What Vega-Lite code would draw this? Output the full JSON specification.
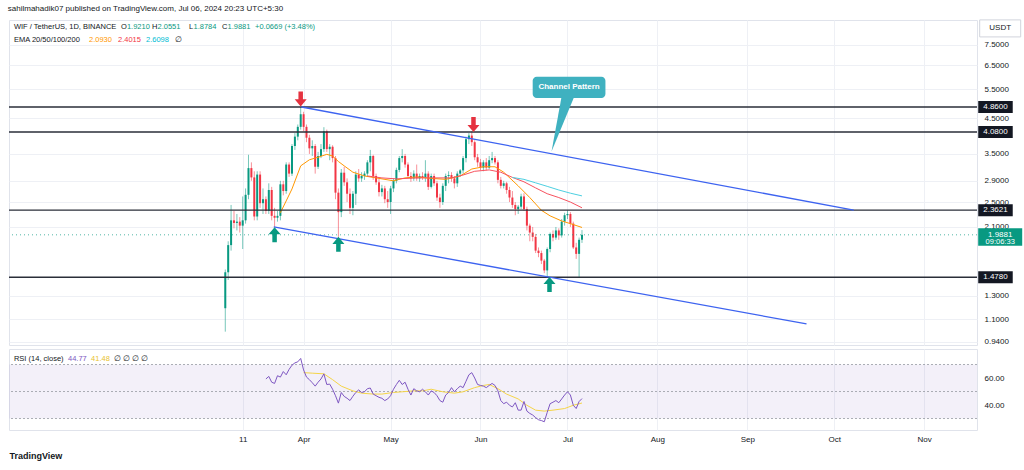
{
  "$schema": "https://vega.github.io/schema/vega-lite/v6.json",
  "background": "white",
  "padding": {"left": 7, "top": 5, "right": 0, "bottom": 0},
  "title": {"text": "sahilmahadik07 published on TradingView.com, Jul 06, 2024 20:23 UTC+5:30", "anchor": "start", "fontSize": 8, "fontWeight": "normal", "color": "#131722", "font": "Liberation Sans", "offset": 4},
  "spacing": 1,
  "config": {
    "font": "Liberation Sans",
    "view": {"stroke": "#e0e3eb"},
    "axis": {"labelFont": "Liberation Sans", "labelFontSize": 8, "labelColor": "#131722", "gridColor": "#eef0f5", "domain": false, "ticks": false}
  },
  "datasets": {
    "ohlc": [
      {"d": "2024-03-05", "o": 1.19, "h": 1.56, "l": 1.01, "c": 1.53},
      {"d": "2024-03-06", "o": 1.53, "h": 1.90, "l": 1.45, "c": 1.85},
      {"d": "2024-03-07", "o": 1.85, "h": 2.45, "l": 1.78, "c": 2.20},
      {"d": "2024-03-08", "o": 2.20, "h": 2.35, "l": 2.08, "c": 2.16},
      {"d": "2024-03-09", "o": 2.16, "h": 2.30, "l": 2.05, "c": 2.18},
      {"d": "2024-03-10", "o": 2.18, "h": 2.25, "l": 2.02, "c": 2.12},
      {"d": "2024-03-11", "o": 2.12, "h": 2.60, "l": 1.80, "c": 2.20},
      {"d": "2024-03-12", "o": 2.20, "h": 2.75, "l": 2.15, "c": 2.63},
      {"d": "2024-03-13", "o": 2.63, "h": 3.48, "l": 2.55, "c": 3.17},
      {"d": "2024-03-14", "o": 3.17, "h": 3.30, "l": 2.90, "c": 2.97},
      {"d": "2024-03-15", "o": 2.97, "h": 3.10, "l": 2.20, "c": 2.26},
      {"d": "2024-03-16", "o": 2.26, "h": 3.10, "l": 2.20, "c": 3.03},
      {"d": "2024-03-17", "o": 3.03, "h": 3.10, "l": 2.40, "c": 2.48},
      {"d": "2024-03-18", "o": 2.48, "h": 2.75, "l": 2.30, "c": 2.55},
      {"d": "2024-03-19", "o": 2.55, "h": 2.60, "l": 2.30, "c": 2.35},
      {"d": "2024-03-20", "o": 2.35, "h": 2.85, "l": 2.30, "c": 2.72},
      {"d": "2024-03-21", "o": 2.72, "h": 2.78, "l": 2.20, "c": 2.27},
      {"d": "2024-03-22", "o": 2.27, "h": 2.40, "l": 2.10, "c": 2.24},
      {"d": "2024-03-23", "o": 2.24, "h": 2.35, "l": 2.18, "c": 2.27},
      {"d": "2024-03-24", "o": 2.27, "h": 2.90, "l": 2.20, "c": 2.83},
      {"d": "2024-03-25", "o": 2.83, "h": 2.90, "l": 2.62, "c": 2.70},
      {"d": "2024-03-26", "o": 2.70, "h": 3.30, "l": 2.65, "c": 3.25},
      {"d": "2024-03-27", "o": 3.25, "h": 3.30, "l": 2.98, "c": 3.05},
      {"d": "2024-03-28", "o": 3.05, "h": 3.75, "l": 3.00, "c": 3.70},
      {"d": "2024-03-29", "o": 3.70, "h": 4.05, "l": 3.60, "c": 3.95},
      {"d": "2024-03-30", "o": 3.95, "h": 4.30, "l": 3.85, "c": 4.23},
      {"d": "2024-03-31", "o": 4.23, "h": 4.86, "l": 4.15, "c": 4.62},
      {"d": "2024-04-01", "o": 4.62, "h": 4.70, "l": 4.10, "c": 4.23},
      {"d": "2024-04-02", "o": 4.23, "h": 4.30, "l": 3.80, "c": 3.92},
      {"d": "2024-04-03", "o": 3.92, "h": 4.00, "l": 3.50, "c": 3.64},
      {"d": "2024-04-04", "o": 3.64, "h": 3.85, "l": 3.45, "c": 3.70},
      {"d": "2024-04-05", "o": 3.70, "h": 3.75, "l": 3.05, "c": 3.20},
      {"d": "2024-04-06", "o": 3.20, "h": 3.55, "l": 3.15, "c": 3.45},
      {"d": "2024-04-07", "o": 3.45, "h": 3.75, "l": 3.40, "c": 3.62},
      {"d": "2024-04-08", "o": 3.62, "h": 4.22, "l": 3.55, "c": 4.10},
      {"d": "2024-04-09", "o": 4.10, "h": 4.15, "l": 3.55, "c": 3.62},
      {"d": "2024-04-10", "o": 3.62, "h": 3.75, "l": 3.35, "c": 3.68},
      {"d": "2024-04-11", "o": 3.68, "h": 3.72, "l": 3.30, "c": 3.40},
      {"d": "2024-04-12", "o": 3.40, "h": 3.45, "l": 2.55, "c": 2.67},
      {"d": "2024-04-13", "o": 2.67, "h": 2.75, "l": 1.96, "c": 2.33},
      {"d": "2024-04-14", "o": 2.33, "h": 3.15, "l": 2.25, "c": 3.07},
      {"d": "2024-04-15", "o": 3.07, "h": 3.20, "l": 2.80, "c": 2.87},
      {"d": "2024-04-16", "o": 2.87, "h": 2.95, "l": 2.50, "c": 2.65},
      {"d": "2024-04-17", "o": 2.65, "h": 2.75, "l": 2.30, "c": 2.40},
      {"d": "2024-04-18", "o": 2.40, "h": 2.70, "l": 2.28, "c": 2.65},
      {"d": "2024-04-19", "o": 2.65, "h": 3.10, "l": 2.45, "c": 3.03},
      {"d": "2024-04-20", "o": 3.03, "h": 3.15, "l": 2.88, "c": 2.95},
      {"d": "2024-04-21", "o": 2.95, "h": 3.08, "l": 2.88, "c": 3.00},
      {"d": "2024-04-22", "o": 3.00, "h": 3.10, "l": 2.92, "c": 3.05},
      {"d": "2024-04-23", "o": 3.05, "h": 3.35, "l": 3.00, "c": 3.30},
      {"d": "2024-04-24", "o": 3.30, "h": 3.60, "l": 3.10, "c": 3.45},
      {"d": "2024-04-25", "o": 3.45, "h": 3.48, "l": 2.92, "c": 3.00},
      {"d": "2024-04-26", "o": 3.00, "h": 3.05, "l": 2.82, "c": 2.87},
      {"d": "2024-04-27", "o": 2.87, "h": 2.95, "l": 2.60, "c": 2.68},
      {"d": "2024-04-28", "o": 2.68, "h": 2.82, "l": 2.60, "c": 2.75},
      {"d": "2024-04-29", "o": 2.75, "h": 2.80, "l": 2.48, "c": 2.55},
      {"d": "2024-04-30", "o": 2.55, "h": 2.70, "l": 2.40, "c": 2.50},
      {"d": "2024-05-01", "o": 2.50, "h": 2.80, "l": 2.30, "c": 2.75},
      {"d": "2024-05-02", "o": 2.75, "h": 2.95, "l": 2.68, "c": 2.90},
      {"d": "2024-05-03", "o": 2.90, "h": 3.18, "l": 2.85, "c": 3.13},
      {"d": "2024-05-04", "o": 3.13, "h": 3.45, "l": 3.08, "c": 3.40},
      {"d": "2024-05-05", "o": 3.40, "h": 3.62, "l": 3.30, "c": 3.45},
      {"d": "2024-05-06", "o": 3.45, "h": 3.50, "l": 3.18, "c": 3.25},
      {"d": "2024-05-07", "o": 3.25, "h": 3.30, "l": 2.95, "c": 3.00},
      {"d": "2024-05-08", "o": 3.00, "h": 3.08, "l": 2.88, "c": 2.95},
      {"d": "2024-05-09", "o": 2.95, "h": 3.12, "l": 2.90, "c": 3.05},
      {"d": "2024-05-10", "o": 3.05, "h": 3.25, "l": 2.90, "c": 2.95},
      {"d": "2024-05-11", "o": 2.95, "h": 3.05, "l": 2.88, "c": 3.00},
      {"d": "2024-05-12", "o": 3.00, "h": 3.08, "l": 2.92, "c": 2.97},
      {"d": "2024-05-13", "o": 2.97, "h": 3.35, "l": 2.88, "c": 3.05},
      {"d": "2024-05-14", "o": 3.05, "h": 3.10, "l": 2.72, "c": 2.78},
      {"d": "2024-05-15", "o": 2.78, "h": 3.05, "l": 2.75, "c": 3.00},
      {"d": "2024-05-16", "o": 3.00, "h": 3.05, "l": 2.80, "c": 2.85},
      {"d": "2024-05-17", "o": 2.85, "h": 2.90, "l": 2.52, "c": 2.58},
      {"d": "2024-05-18", "o": 2.58, "h": 2.65, "l": 2.40, "c": 2.50},
      {"d": "2024-05-19", "o": 2.50, "h": 2.85, "l": 2.45, "c": 2.80},
      {"d": "2024-05-20", "o": 2.80, "h": 3.05, "l": 2.70, "c": 3.00},
      {"d": "2024-05-21", "o": 3.00, "h": 3.10, "l": 2.85, "c": 3.02},
      {"d": "2024-05-22", "o": 3.02, "h": 3.08, "l": 2.88, "c": 2.95},
      {"d": "2024-05-23", "o": 2.95, "h": 3.00, "l": 2.75, "c": 2.85},
      {"d": "2024-05-24", "o": 2.85, "h": 3.10, "l": 2.78, "c": 3.05},
      {"d": "2024-05-25", "o": 3.05, "h": 3.15, "l": 2.98, "c": 3.12},
      {"d": "2024-05-26", "o": 3.12, "h": 3.45, "l": 3.05, "c": 3.40},
      {"d": "2024-05-27", "o": 3.40, "h": 3.95, "l": 3.30, "c": 3.88},
      {"d": "2024-05-28", "o": 3.88, "h": 4.05, "l": 3.75, "c": 3.98},
      {"d": "2024-05-29", "o": 3.98, "h": 4.10, "l": 3.70, "c": 3.80},
      {"d": "2024-05-30", "o": 3.80, "h": 3.85, "l": 3.35, "c": 3.42},
      {"d": "2024-05-31", "o": 3.42, "h": 3.50, "l": 3.20, "c": 3.30},
      {"d": "2024-06-01", "o": 3.30, "h": 3.38, "l": 3.12, "c": 3.18},
      {"d": "2024-06-02", "o": 3.18, "h": 3.35, "l": 3.10, "c": 3.30},
      {"d": "2024-06-03", "o": 3.30, "h": 3.40, "l": 3.12, "c": 3.18},
      {"d": "2024-06-04", "o": 3.18, "h": 3.45, "l": 3.15, "c": 3.35},
      {"d": "2024-06-05", "o": 3.35, "h": 3.55, "l": 3.28, "c": 3.40},
      {"d": "2024-06-06", "o": 3.40, "h": 3.45, "l": 3.25, "c": 3.30},
      {"d": "2024-06-07", "o": 3.30, "h": 3.35, "l": 2.85, "c": 2.92},
      {"d": "2024-06-08", "o": 2.92, "h": 2.98, "l": 2.75, "c": 2.80},
      {"d": "2024-06-09", "o": 2.80, "h": 2.90, "l": 2.75, "c": 2.85},
      {"d": "2024-06-10", "o": 2.85, "h": 2.88, "l": 2.65, "c": 2.72},
      {"d": "2024-06-11", "o": 2.72, "h": 2.78, "l": 2.50, "c": 2.58},
      {"d": "2024-06-12", "o": 2.58, "h": 2.70, "l": 2.40, "c": 2.45},
      {"d": "2024-06-13", "o": 2.45, "h": 2.50, "l": 2.28, "c": 2.38},
      {"d": "2024-06-14", "o": 2.38, "h": 2.45, "l": 2.30, "c": 2.42},
      {"d": "2024-06-15", "o": 2.42, "h": 2.65, "l": 2.38, "c": 2.60},
      {"d": "2024-06-16", "o": 2.60, "h": 2.66, "l": 2.35, "c": 2.38},
      {"d": "2024-06-17", "o": 2.38, "h": 2.42, "l": 2.05, "c": 2.12},
      {"d": "2024-06-18", "o": 2.12, "h": 2.15, "l": 1.90, "c": 2.02},
      {"d": "2024-06-19", "o": 2.02, "h": 2.10, "l": 1.90, "c": 1.96},
      {"d": "2024-06-20", "o": 1.96, "h": 2.00, "l": 1.75, "c": 1.78},
      {"d": "2024-06-21", "o": 1.78, "h": 1.82, "l": 1.70, "c": 1.75},
      {"d": "2024-06-22", "o": 1.75, "h": 1.78, "l": 1.62, "c": 1.66},
      {"d": "2024-06-23", "o": 1.66, "h": 1.68, "l": 1.52, "c": 1.55},
      {"d": "2024-06-24", "o": 1.55, "h": 1.82, "l": 1.478, "c": 1.80},
      {"d": "2024-06-25", "o": 1.80, "h": 2.02, "l": 1.76, "c": 2.00},
      {"d": "2024-06-26", "o": 2.00, "h": 2.05, "l": 1.90, "c": 1.95},
      {"d": "2024-06-27", "o": 1.95, "h": 2.10, "l": 1.92, "c": 2.05},
      {"d": "2024-06-28", "o": 2.05, "h": 2.08, "l": 1.92, "c": 1.98},
      {"d": "2024-06-29", "o": 1.98, "h": 2.22, "l": 1.95, "c": 2.18},
      {"d": "2024-06-30", "o": 2.18, "h": 2.32, "l": 2.12, "c": 2.28},
      {"d": "2024-07-01", "o": 2.28, "h": 2.36, "l": 2.22, "c": 2.30},
      {"d": "2024-07-02", "o": 2.30, "h": 2.33, "l": 2.10, "c": 2.15},
      {"d": "2024-07-03", "o": 2.15, "h": 2.18, "l": 1.80, "c": 1.82},
      {"d": "2024-07-04", "o": 1.82, "h": 1.88, "l": 1.68, "c": 1.74},
      {"d": "2024-07-05", "o": 1.74, "h": 1.95, "l": 1.47, "c": 1.92},
      {"d": "2024-07-06", "o": 1.921, "h": 2.0551, "l": 1.8784, "c": 1.9881}
    ],
    "ema": [
      {"d": "2024-03-24", "s": "EMA20", "v": 2.32},
      {"d": "2024-03-26", "s": "EMA20", "v": 2.52},
      {"d": "2024-03-28", "s": "EMA20", "v": 2.74},
      {"d": "2024-03-31", "s": "EMA20", "v": 3.22},
      {"d": "2024-04-03", "s": "EMA20", "v": 3.36},
      {"d": "2024-04-06", "s": "EMA20", "v": 3.42},
      {"d": "2024-04-09", "s": "EMA20", "v": 3.49},
      {"d": "2024-04-11", "s": "EMA20", "v": 3.45},
      {"d": "2024-04-13", "s": "EMA20", "v": 3.32},
      {"d": "2024-04-15", "s": "EMA20", "v": 3.22},
      {"d": "2024-04-18", "s": "EMA20", "v": 3.08},
      {"d": "2024-04-22", "s": "EMA20", "v": 3.00},
      {"d": "2024-04-27", "s": "EMA20", "v": 2.95},
      {"d": "2024-05-02", "s": "EMA20", "v": 2.90},
      {"d": "2024-05-06", "s": "EMA20", "v": 2.96},
      {"d": "2024-05-10", "s": "EMA20", "v": 2.98},
      {"d": "2024-05-15", "s": "EMA20", "v": 2.95},
      {"d": "2024-05-20", "s": "EMA20", "v": 2.93},
      {"d": "2024-05-25", "s": "EMA20", "v": 3.00},
      {"d": "2024-05-29", "s": "EMA20", "v": 3.15},
      {"d": "2024-06-02", "s": "EMA20", "v": 3.20},
      {"d": "2024-06-06", "s": "EMA20", "v": 3.20},
      {"d": "2024-06-09", "s": "EMA20", "v": 3.08},
      {"d": "2024-06-14", "s": "EMA20", "v": 2.80},
      {"d": "2024-06-18", "s": "EMA20", "v": 2.58},
      {"d": "2024-06-22", "s": "EMA20", "v": 2.36},
      {"d": "2024-06-25", "s": "EMA20", "v": 2.27},
      {"d": "2024-06-29", "s": "EMA20", "v": 2.19},
      {"d": "2024-07-02", "s": "EMA20", "v": 2.15},
      {"d": "2024-07-06", "s": "EMA20", "v": 2.093},
      {"d": "2024-04-23", "s": "EMA50", "v": 3.00},
      {"d": "2024-04-28", "s": "EMA50", "v": 2.96},
      {"d": "2024-05-03", "s": "EMA50", "v": 2.94},
      {"d": "2024-05-10", "s": "EMA50", "v": 2.96},
      {"d": "2024-05-17", "s": "EMA50", "v": 2.96},
      {"d": "2024-05-22", "s": "EMA50", "v": 2.96},
      {"d": "2024-05-26", "s": "EMA50", "v": 3.02},
      {"d": "2024-05-30", "s": "EMA50", "v": 3.10},
      {"d": "2024-06-04", "s": "EMA50", "v": 3.13},
      {"d": "2024-06-08", "s": "EMA50", "v": 3.08},
      {"d": "2024-06-12", "s": "EMA50", "v": 2.97},
      {"d": "2024-06-16", "s": "EMA50", "v": 2.88},
      {"d": "2024-06-20", "s": "EMA50", "v": 2.76},
      {"d": "2024-06-24", "s": "EMA50", "v": 2.65},
      {"d": "2024-06-28", "s": "EMA50", "v": 2.58},
      {"d": "2024-07-02", "s": "EMA50", "v": 2.50},
      {"d": "2024-07-06", "s": "EMA50", "v": 2.4015},
      {"d": "2024-06-12", "s": "EMA100", "v": 2.97},
      {"d": "2024-06-16", "s": "EMA100", "v": 2.93},
      {"d": "2024-06-20", "s": "EMA100", "v": 2.86},
      {"d": "2024-06-24", "s": "EMA100", "v": 2.79},
      {"d": "2024-06-28", "s": "EMA100", "v": 2.72},
      {"d": "2024-07-02", "s": "EMA100", "v": 2.66},
      {"d": "2024-07-06", "s": "EMA100", "v": 2.6098}
    ],
    "levels": [{"v": 4.86}, {"v": 4.08}, {"v": 2.3621}, {"v": 1.478}],
    "rsi": [
      {"d": "2024-03-19", "v": 59.3}, {"d": "2024-03-20", "v": 61.2}, {"d": "2024-03-21", "v": 56.9}, {"d": "2024-03-22", "v": 56.0},
      {"d": "2024-03-23", "v": 61.7}, {"d": "2024-03-24", "v": 60.7}, {"d": "2024-03-25", "v": 64.8}, {"d": "2024-03-26", "v": 62.4},
      {"d": "2024-03-27", "v": 66.4}, {"d": "2024-03-28", "v": 69.5}, {"d": "2024-03-29", "v": 71.2}, {"d": "2024-03-30", "v": 72.0},
      {"d": "2024-03-31", "v": 74.5}, {"d": "2024-04-01", "v": 66.0}, {"d": "2024-04-02", "v": 60.7}, {"d": "2024-04-03", "v": 58.8},
      {"d": "2024-04-04", "v": 56.5}, {"d": "2024-04-05", "v": 54.0}, {"d": "2024-04-06", "v": 56.9}, {"d": "2024-04-07", "v": 59.3},
      {"d": "2024-04-08", "v": 63.1}, {"d": "2024-04-09", "v": 55.2}, {"d": "2024-04-10", "v": 55.5}, {"d": "2024-04-11", "v": 51.7},
      {"d": "2024-04-12", "v": 46.9}, {"d": "2024-04-13", "v": 41.4}, {"d": "2024-04-14", "v": 49.3}, {"d": "2024-04-15", "v": 46.4},
      {"d": "2024-04-16", "v": 45.0}, {"d": "2024-04-17", "v": 43.3}, {"d": "2024-04-18", "v": 46.5}, {"d": "2024-04-19", "v": 49.3},
      {"d": "2024-04-20", "v": 51.2}, {"d": "2024-04-21", "v": 49.3}, {"d": "2024-04-22", "v": 49.8}, {"d": "2024-04-23", "v": 52.1},
      {"d": "2024-04-24", "v": 52.6}, {"d": "2024-04-25", "v": 48.1}, {"d": "2024-04-26", "v": 46.9}, {"d": "2024-04-27", "v": 45.7},
      {"d": "2024-04-28", "v": 45.0}, {"d": "2024-04-29", "v": 43.3}, {"d": "2024-04-30", "v": 44.5}, {"d": "2024-05-01", "v": 46.9},
      {"d": "2024-05-02", "v": 51.7}, {"d": "2024-05-03", "v": 55.2}, {"d": "2024-05-04", "v": 58.3}, {"d": "2024-05-05", "v": 55.2},
      {"d": "2024-05-06", "v": 56.9}, {"d": "2024-05-07", "v": 51.7}, {"d": "2024-05-08", "v": 47.4}, {"d": "2024-05-09", "v": 52.1},
      {"d": "2024-05-10", "v": 50.5}, {"d": "2024-05-11", "v": 49.8}, {"d": "2024-05-12", "v": 51.7}, {"d": "2024-05-13", "v": 49.8},
      {"d": "2024-05-14", "v": 47.4}, {"d": "2024-05-15", "v": 50.5}, {"d": "2024-05-16", "v": 49.3}, {"d": "2024-05-17", "v": 46.9},
      {"d": "2024-05-18", "v": 43.3}, {"d": "2024-05-19", "v": 42.1}, {"d": "2024-05-20", "v": 47.4}, {"d": "2024-05-21", "v": 49.3},
      {"d": "2024-05-22", "v": 52.9}, {"d": "2024-05-23", "v": 49.8}, {"d": "2024-05-24", "v": 52.1}, {"d": "2024-05-25", "v": 54.0},
      {"d": "2024-05-26", "v": 52.9}, {"d": "2024-05-27", "v": 57.6}, {"d": "2024-05-28", "v": 62.4}, {"d": "2024-05-29", "v": 64.0},
      {"d": "2024-05-30", "v": 60.0}, {"d": "2024-05-31", "v": 55.2}, {"d": "2024-06-01", "v": 54.5}, {"d": "2024-06-02", "v": 54.0},
      {"d": "2024-06-03", "v": 52.9}, {"d": "2024-06-04", "v": 54.5}, {"d": "2024-06-05", "v": 56.0}, {"d": "2024-06-06", "v": 54.5},
      {"d": "2024-06-07", "v": 50.5}, {"d": "2024-06-08", "v": 43.3}, {"d": "2024-06-09", "v": 41.0}, {"d": "2024-06-10", "v": 42.1},
      {"d": "2024-06-11", "v": 39.8}, {"d": "2024-06-12", "v": 38.6}, {"d": "2024-06-13", "v": 41.7}, {"d": "2024-06-14", "v": 36.2},
      {"d": "2024-06-15", "v": 36.2}, {"d": "2024-06-16", "v": 42.6}, {"d": "2024-06-17", "v": 35.5}, {"d": "2024-06-18", "v": 33.8},
      {"d": "2024-06-19", "v": 32.6}, {"d": "2024-06-20", "v": 30.7}, {"d": "2024-06-21", "v": 29.1}, {"d": "2024-06-22", "v": 28.5},
      {"d": "2024-06-23", "v": 27.6}, {"d": "2024-06-24", "v": 34.5}, {"d": "2024-06-25", "v": 41.0}, {"d": "2024-06-26", "v": 42.1},
      {"d": "2024-06-27", "v": 43.3}, {"d": "2024-06-28", "v": 41.7}, {"d": "2024-06-29", "v": 44.5}, {"d": "2024-06-30", "v": 47.4},
      {"d": "2024-07-01", "v": 49.8}, {"d": "2024-07-02", "v": 47.4}, {"d": "2024-07-03", "v": 39.8}, {"d": "2024-07-04", "v": 37.4},
      {"d": "2024-07-05", "v": 42.6}, {"d": "2024-07-06", "v": 44.77}
    ],
    "rsima": [
      {"d": "2024-04-01", "v": 64.0}, {"d": "2024-04-04", "v": 63.6}, {"d": "2024-04-08", "v": 63.1}, {"d": "2024-04-11", "v": 58.8},
      {"d": "2024-04-14", "v": 54.0}, {"d": "2024-04-18", "v": 50.5}, {"d": "2024-04-21", "v": 48.8}, {"d": "2024-04-25", "v": 48.1},
      {"d": "2024-04-28", "v": 48.1}, {"d": "2024-05-02", "v": 49.3}, {"d": "2024-05-05", "v": 49.8}, {"d": "2024-05-09", "v": 50.5},
      {"d": "2024-05-12", "v": 50.5}, {"d": "2024-05-15", "v": 51.7}, {"d": "2024-05-19", "v": 49.8}, {"d": "2024-05-23", "v": 48.8},
      {"d": "2024-05-26", "v": 49.8}, {"d": "2024-05-30", "v": 52.9}, {"d": "2024-06-02", "v": 54.5}, {"d": "2024-06-04", "v": 55.2},
      {"d": "2024-06-07", "v": 52.1}, {"d": "2024-06-10", "v": 48.1}, {"d": "2024-06-14", "v": 44.5}, {"d": "2024-06-17", "v": 39.8},
      {"d": "2024-06-20", "v": 36.2}, {"d": "2024-06-23", "v": 35.5}, {"d": "2024-06-26", "v": 36.2}, {"d": "2024-06-30", "v": 37.4},
      {"d": "2024-07-03", "v": 39.8}, {"d": "2024-07-06", "v": 41.48}
    ]
  },
  "vconcat": [
    {
      "width": 968,
      "height": 325,
      "resolve": {"axis": {"x": "independent", "y": "independent"}, "scale": {"color": "independent", "shape": "independent"}},
      "layer": [
        {
          "data": {"name": "ohlc"},
          "mark": {"type": "rule", "strokeWidth": 1, "opacity": 0.55},
          "encoding": {
            "x": {"field": "d", "type": "temporal", "title": null,
              "scale": {"type": "utc", "padding": 0, "domain": [{"year": 2023, "month": 12, "date": 21, "hours": 10, "utc": true}, {"year": 2024, "month": 11, "date": 19, "hours": 5, "utc": true}]},
              "axis": {"labels": false, "grid": true, "title": null, "values": [
                {"year": 2024, "month": 3, "date": 11, "utc": true}, {"year": 2024, "month": 4, "date": 1, "utc": true},
                {"year": 2024, "month": 5, "date": 1, "utc": true}, {"year": 2024, "month": 6, "date": 1, "utc": true},
                {"year": 2024, "month": 7, "date": 1, "utc": true}, {"year": 2024, "month": 8, "date": 1, "utc": true},
                {"year": 2024, "month": 9, "date": 1, "utc": true}, {"year": 2024, "month": 10, "date": 1, "utc": true},
                {"year": 2024, "month": 11, "date": 1, "utc": true}]}},
            "y": {"field": "l", "type": "quantitative", "title": null,
              "scale": {"type": "log", "domain": [0.92, 8.93], "nice": false},
              "axis": {"orient": "right", "title": null, "grid": true, "format": ".4f", "labelPadding": 7,
                "values": [0.94, 1.1, 1.3, 2.1, 2.5, 2.9, 3.5, 4.5, 5.5, 6.5, 7.5]}},
            "y2": {"field": "h"},
            "color": {"condition": {"test": "datum.c >= datum.o", "value": "#089981"}, "value": "#f23645"}
          }
        },
        {
          "data": {"name": "ohlc"},
          "mark": {"type": "bar", "size": 2},
          "encoding": {
            "x": {"field": "d", "type": "temporal", "axis": null},
            "y": {"field": "o", "type": "quantitative", "axis": null},
            "y2": {"field": "c"},
            "color": {"condition": {"test": "datum.c >= datum.o", "value": "#089981"}, "value": "#f23645"}
          }
        },
        {
          "data": {"name": "ema"},
          "mark": {"type": "line", "strokeWidth": 1},
          "encoding": {
            "x": {"field": "d", "type": "temporal", "axis": null},
            "y": {"field": "v", "type": "quantitative", "axis": null},
            "color": {"field": "s", "type": "nominal", "legend": null,
              "scale": {"domain": ["EMA20", "EMA50", "EMA100"], "range": ["#ff9800", "#f7525f", "#4dd0e1"]}}
          }
        },
        {
          "data": {"name": "levels"},
          "mark": {"type": "rule", "color": "#2a2e39", "strokeWidth": 1.4},
          "encoding": {"y": {"field": "v", "type": "quantitative", "axis": null}}
        },
        {
          "data": {"values": [{}]},
          "mark": {"type": "rule", "color": "#089981", "strokeWidth": 1, "strokeDash": [1, 3], "opacity": 0.7},
          "encoding": {"y": {"datum": 1.9881, "type": "quantitative", "axis": null}}
        },
        {
          "data": {"values": [
            {"d": "2024-03-31T07:00:00Z", "p": 4.86, "g": "upper"},
            {"d": "2024-10-07T17:00:00Z", "p": 2.362, "g": "upper"},
            {"d": "2024-03-21T17:00:00Z", "p": 2.10, "g": "lower"},
            {"d": "2024-09-21T10:00:00Z", "p": 1.066, "g": "lower"}
          ]},
          "mark": {"type": "line", "color": "#3d63f0", "strokeWidth": 1.3},
          "encoding": {
            "x": {"field": "d", "type": "temporal", "axis": null},
            "y": {"field": "p", "type": "quantitative", "axis": null},
            "detail": {"field": "g"}
          }
        },
        {
          "data": {"values": [
            {"d": "2024-03-31T00:00:00Z", "p": 5.14, "t": "down"},
            {"d": "2024-05-29T14:00:00Z", "p": 4.30, "t": "down"},
            {"d": "2024-03-22T00:00:00Z", "p": 1.99, "t": "up"},
            {"d": "2024-04-13T00:00:00Z", "p": 1.86, "t": "up"},
            {"d": "2024-06-24T19:00:00Z", "p": 1.405, "t": "up"}
          ]},
          "mark": {"type": "point", "filled": true, "opacity": 1, "size": 225},
          "encoding": {
            "x": {"field": "d", "type": "temporal", "axis": null},
            "y": {"field": "p", "type": "quantitative", "axis": null},
            "shape": {"field": "t", "type": "nominal", "legend": null,
              "scale": {"domain": ["down", "up"], "range": ["M-0.3,-1H0.3V0.05H0.8L0,1L-0.8,0.05H-0.3Z", "M-0.3,1H0.3V-0.05H0.8L0,-1L-0.8,-0.05H-0.3Z"]}},
            "color": {"field": "t", "type": "nominal", "legend": null,
              "scale": {"domain": ["down", "up"], "range": ["#e5323f", "#089981"]}}
          }
        },
        {
          "data": {"values": [
            {"p": 5.25, "a": "2024-06-29T00:00:00Z", "b": "2024-07-03T10:00:00Z"},
            {"p": 3.56, "a": "2024-06-25T12:00:00Z", "b": "2024-06-25T12:00:00Z"}
          ]},
          "mark": {"type": "area", "orient": "horizontal", "color": "#3fb1c0", "opacity": 1},
          "encoding": {
            "y": {"field": "p", "type": "quantitative", "axis": null},
            "x": {"field": "a", "type": "temporal", "axis": null},
            "x2": {"field": "b"}
          }
        },
        {
          "data": {"values": [{}]},
          "mark": {"type": "rect", "color": "#3fb1c0", "cornerRadius": 4},
          "encoding": {
            "x": {"datum": {"year": 2024, "month": 6, "date": 19, "utc": true}, "type": "temporal", "axis": null},
            "x2": {"datum": {"year": 2024, "month": 7, "date": 14, "hours": 2, "utc": true}},
            "y": {"datum": 6.0, "type": "quantitative", "axis": null},
            "y2": {"datum": 5.18}
          }
        },
        {
          "data": {"values": [{}]},
          "mark": {"type": "text", "text": "Channel Pattern", "color": "white", "fontSize": 8, "fontWeight": "bold", "align": "center", "baseline": "middle"},
          "encoding": {
            "x": {"datum": {"year": 2024, "month": 7, "date": 1, "hours": 13, "utc": true}, "type": "temporal", "axis": null},
            "y": {"datum": 5.57, "type": "quantitative", "axis": null}
          }
        },
        {
          "data": {"values": [
            {"t": "WIF / TetherUS, 1D, BINANCE", "d": "2023-12-23T03:00:00Z", "p": 8.51, "k": "n"},
            {"t": "O", "d": "2024-01-29T01:00:00Z", "p": 8.51, "k": "n"},
            {"t": "1.9210", "d": "2024-01-31T02:00:00Z", "p": 8.51, "k": "g"},
            {"t": "H", "d": "2024-02-08T17:00:00Z", "p": 8.51, "k": "n"},
            {"t": "2.0551", "d": "2024-02-10T15:00:00Z", "p": 8.51, "k": "g"},
            {"t": "L", "d": "2024-02-21T12:00:00Z", "p": 8.51, "k": "n"},
            {"t": "1.8784", "d": "2024-02-23T01:00:00Z", "p": 8.51, "k": "g"},
            {"t": "C", "d": "2024-03-03T21:00:00Z", "p": 8.51, "k": "n"},
            {"t": "1.9881", "d": "2024-03-05T18:00:00Z", "p": 8.51, "k": "g"},
            {"t": "+0.0669 (+3.48%)", "d": "2024-03-15T06:00:00Z", "p": 8.51, "k": "g"},
            {"t": "EMA 20/50/100/200", "d": "2023-12-23T03:00:00Z", "p": 7.77, "k": "n"},
            {"t": "2.0930", "d": "2024-01-18T00:00:00Z", "p": 7.77, "k": "o"},
            {"t": "2.4015", "d": "2024-01-28T00:00:00Z", "p": 7.77, "k": "r"},
            {"t": "2.6098", "d": "2024-02-06T16:00:00Z", "p": 7.77, "k": "c"},
            {"t": "∅", "d": "2024-02-16T16:00:00Z", "p": 7.77, "k": "n"}
          ]},
          "mark": {"type": "text", "fontSize": 7.5, "align": "left", "baseline": "middle"},
          "encoding": {
            "x": {"field": "d", "type": "temporal", "axis": null},
            "y": {"field": "p", "type": "quantitative", "axis": null},
            "text": {"field": "t"},
            "color": {"field": "k", "type": "nominal", "legend": null,
              "scale": {"domain": ["n", "g", "o", "r", "c"], "range": ["#131722", "#089981", "#ff9800", "#f23645", "#00bcd4"]}}
          }
        },
        {
          "data": {"name": "levels"},
          "mark": {"type": "point", "shape": "M-1,-0.348H1V0.348H-1Z", "size": 1190, "filled": true, "color": "#131722", "opacity": 1},
          "encoding": {
            "x": {"datum": {"year": 2024, "month": 11, "date": 25, "hours": 14, "utc": true}, "type": "temporal", "axis": null},
            "y": {"field": "v", "type": "quantitative", "axis": null}
          }
        },
        {
          "data": {"name": "levels"},
          "mark": {"type": "text", "color": "white", "fontSize": 8, "align": "center", "baseline": "middle"},
          "encoding": {
            "x": {"datum": {"year": 2024, "month": 11, "date": 25, "hours": 14, "utc": true}, "type": "temporal", "axis": null},
            "y": {"field": "v", "type": "quantitative", "axis": null},
            "text": {"field": "v", "type": "quantitative", "format": ".4f"}
          }
        },
        {
          "data": {"values": [{}]},
          "mark": {"type": "point", "shape": "M-1,-0.3H1V0.5H-1Z", "size": 1936, "filled": true, "color": "#089981", "opacity": 1},
          "encoding": {
            "x": {"datum": {"year": 2024, "month": 11, "date": 27, "hours": 5, "utc": true}, "type": "temporal", "axis": null},
            "y": {"datum": 1.9881, "type": "quantitative", "axis": null}
          }
        },
        {
          "data": {"values": [{}]},
          "mark": {"type": "text", "text": "1.9881", "color": "white", "fontSize": 8, "align": "center", "baseline": "middle", "dy": 0.5},
          "encoding": {
            "x": {"datum": {"year": 2024, "month": 11, "date": 27, "hours": 5, "utc": true}, "type": "temporal", "axis": null},
            "y": {"datum": 1.9881, "type": "quantitative", "axis": null}
          }
        },
        {
          "data": {"values": [{}]},
          "mark": {"type": "text", "text": "09:06:33", "color": "white", "fontSize": 7.5, "align": "center", "baseline": "middle", "dy": 7.5},
          "encoding": {
            "x": {"datum": {"year": 2024, "month": 11, "date": 27, "hours": 5, "utc": true}, "type": "temporal", "axis": null},
            "y": {"datum": 1.9881, "type": "quantitative", "axis": null}
          }
        },
        {
          "data": {"values": [{}]},
          "mark": {"type": "point", "shape": "M-1,-0.415H1V0.415H-1Z", "size": 1681, "filled": true, "fill": "white", "stroke": "#d1d4dc", "strokeWidth": 1, "opacity": 1},
          "encoding": {
            "x": {"datum": {"year": 2024, "month": 11, "date": 27, "hours": 5, "utc": true}, "type": "temporal", "axis": null},
            "y": {"datum": 8.42, "type": "quantitative", "axis": null}
          }
        },
        {
          "data": {"values": [{}]},
          "mark": {"type": "text", "text": "USDT", "color": "#131722", "fontSize": 8, "align": "center", "baseline": "middle"},
          "encoding": {
            "x": {"datum": {"year": 2024, "month": 11, "date": 27, "hours": 5, "utc": true}, "type": "temporal", "axis": null},
            "y": {"datum": 8.42, "type": "quantitative", "axis": null}
          }
        }
      ]
    },
    {
      "width": 968,
      "height": 81,
      "resolve": {"axis": {"x": "independent", "y": "independent"}, "scale": {"color": "independent"}},
      "layer": [
        {
          "data": {"name": "rsi"},
          "mark": {"type": "line", "color": "#7e57c2", "strokeWidth": 1, "strokeOpacity": 0},
          "encoding": {
            "x": {"field": "d", "type": "temporal", "title": "TradingView",
              "scale": {"type": "utc", "padding": 0, "domain": [{"year": 2023, "month": 12, "date": 21, "hours": 10, "utc": true}, {"year": 2024, "month": 11, "date": 19, "hours": 5, "utc": true}]},
              "axis": {"grid": true, "labelPadding": 5, "title": "TradingView", "titleAnchor": "start", "titleAlign": "left", "titleFontSize": 9, "titleFontWeight": "bold", "titleColor": "#131722", "titlePadding": 8,
                "labelExpr": "utcFormat(datum.value, '%d') == '11' ? '11' : utcFormat(datum.value, '%b')",
                "values": [
                {"year": 2024, "month": 3, "date": 11, "utc": true}, {"year": 2024, "month": 4, "date": 1, "utc": true},
                {"year": 2024, "month": 5, "date": 1, "utc": true}, {"year": 2024, "month": 6, "date": 1, "utc": true},
                {"year": 2024, "month": 7, "date": 1, "utc": true}, {"year": 2024, "month": 8, "date": 1, "utc": true},
                {"year": 2024, "month": 9, "date": 1, "utc": true}, {"year": 2024, "month": 10, "date": 1, "utc": true},
                {"year": 2024, "month": 11, "date": 1, "utc": true}]}},
            "y": {"field": "v", "type": "quantitative", "title": null,
              "scale": {"domain": [21.5, 81.5], "nice": false, "zero": false},
              "axis": {"orient": "right", "title": null, "grid": false, "format": ".2f", "labelPadding": 7, "values": [40, 60]}}
          }
        },
        {
          "data": {"values": [{}]},
          "mark": {"type": "rect", "color": "#7e57c2", "opacity": 0.09},
          "encoding": {
            "y": {"datum": 70, "type": "quantitative", "axis": null},
            "y2": {"datum": 30}
          }
        },
        {
          "data": {"values": [{"v": 70}, {"v": 50}, {"v": 30}]},
          "mark": {"type": "rule", "color": "#9598a1", "strokeWidth": 1, "strokeDash": [2, 2], "opacity": 0.8},
          "encoding": {"y": {"field": "v", "type": "quantitative", "axis": null}}
        },
        {
          "data": {"name": "rsima"},
          "mark": {"type": "line", "color": "#f5d547", "strokeWidth": 1},
          "encoding": {
            "x": {"field": "d", "type": "temporal", "axis": null},
            "y": {"field": "v", "type": "quantitative", "axis": null}
          }
        },
        {
          "data": {"name": "rsi"},
          "mark": {"type": "line", "color": "#7e57c2", "strokeWidth": 1},
          "encoding": {
            "x": {"field": "d", "type": "temporal", "axis": null},
            "y": {"field": "v", "type": "quantitative", "axis": null}
          }
        },
        {
          "data": {"values": [
            {"t": "RSI (14, close)", "d": "2023-12-23T03:00:00Z", "p": 74.1, "k": "n"},
            {"t": "44.77", "d": "2024-01-10T18:00:00Z", "p": 74.1, "k": "p"},
            {"t": "41.48", "d": "2024-01-18T17:00:00Z", "p": 74.1, "k": "y"},
            {"t": "∅ ∅ ∅ ∅", "d": "2024-01-26T15:00:00Z", "p": 74.1, "k": "n"}
          ]},
          "mark": {"type": "text", "fontSize": 7.5, "align": "left", "baseline": "middle"},
          "encoding": {
            "x": {"field": "d", "type": "temporal", "axis": null},
            "y": {"field": "p", "type": "quantitative", "axis": null},
            "text": {"field": "t"},
            "color": {"field": "k", "type": "nominal", "legend": null,
              "scale": {"domain": ["n", "p", "y"], "range": ["#131722", "#7e57c2", "#e8c22c"]}}
          }
        }
      ]
    }
  ]
}
